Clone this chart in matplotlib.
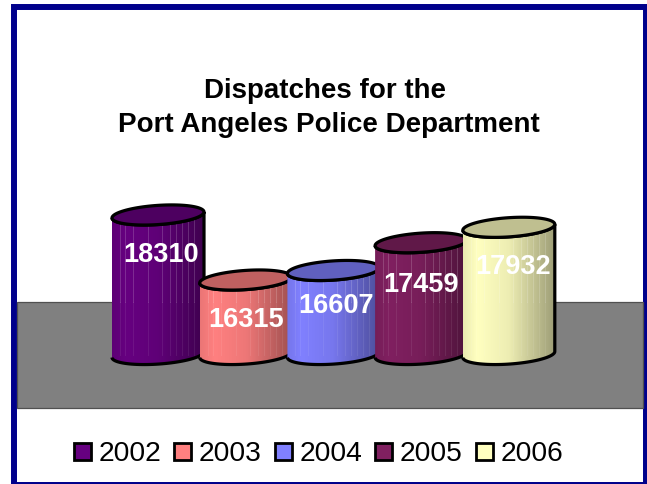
import numpy as np
import matplotlib
matplotlib.use("Agg")
import matplotlib.pyplot as plt
from matplotlib.colors import to_rgb
from matplotlib.patches import PathPatch, Rectangle
from matplotlib.path import Path

plt.rcParams["font.family"] = ["Liberation Sans", "DejaVu Sans"]

title = "Dispatches for the\nPort Angeles Police Department"
years = ["2002", "2003", "2004", "2005", "2006"]
dispatches = [18310, 16315, 16607, 17459, 17932]
colors = ["#660080", "#FF8080", "#8080FF", "#802060", "#FFFFC0"]

W, H = 647, 485
BAR_STEP = 87.7     # px between cylinders
PX_PER_UNIT = 0.0326
BASE = 14030        # value where the cylinders stand


def px_x(x):
    return (x - 158) / BAR_STEP


def px_y(y):
    return BASE + (355.5 - y) / PX_PER_UNIT


def shade(color, f):
    return tuple(c * f for c in to_rgb(color))


def ring(cx, cy, t):
    # slightly tilted ellipse, in data units
    x = cx + (46 / BAR_STEP) * np.cos(t)
    y = cy + (9.6 * np.sin(t) + 3.0 * np.cos(t)) / PX_PER_UNIT
    return x, y


def cylinder(ax, i, value, color, z):
    t_low = np.linspace(np.pi, 2 * np.pi, 50)
    x_low, y_low = ring(i, BASE, t_low)
    x_up, y_up = ring(i, value, t_low[::-1])
    body = Path(np.column_stack([np.r_[x_low, x_up], np.r_[y_low, y_up]]), closed=False)

    # left to right shading
    ramp = np.interp(np.linspace(0, 1, 90), [0, 0.15, 0.5, 1], [0.92, 1.0, 0.93, 0.62])
    img = np.array([[shade(color, f) for f in ramp]])
    half = 46 / BAR_STEP
    im = ax.imshow(img, extent=[i - half, i + half, BASE - 15 / PX_PER_UNIT, value + 5 / PX_PER_UNIT],
                   aspect="auto", zorder=z, interpolation="bilinear")
    outline = PathPatch(body, fc="none", ec="none", transform=ax.transData)
    ax.add_patch(outline)
    im.set_clip_path(outline)

    # thin pale streaks of the old gradient fill, fainter below the floor edge
    floor_edge = px_y(302.5)
    for off in [-38, -33, -25, -10, 4, 12, 18, 24, 30, 36]:
        up, = ax.plot([i + off / BAR_STEP] * 2, [floor_edge, value], color="white", lw=0.6,
                      alpha=0.2, zorder=z + 0.1)
        low, = ax.plot([i + off / BAR_STEP] * 2, [BASE, floor_edge], color="white", lw=0.6,
                       alpha=0.09, zorder=z + 0.1)
        up.set_clip_path(outline)
        low.set_clip_path(outline)

    ax.add_patch(PathPatch(body, fc="none", ec="black", lw=2.3, zorder=z + 0.2))
    t = np.linspace(0, 2 * np.pi, 100)
    x_top, y_top = ring(i, value, t)
    ax.fill(x_top, y_top, fc=shade(color, 0.75), ec="black", lw=2.3, zorder=z + 0.3)


fig = plt.figure(figsize=(W / 100, H / 100), dpi=100)
ax = fig.add_axes([0, 0, 1, 1])
ax.set_axis_off()
ax.set_xlim(px_x(0), px_x(W))
ax.set_ylim(px_y(H), px_y(0))

# frame and floor are drawn in figure pixels
pix = matplotlib.transforms.Affine2D().scale(1 / W, -1 / H).translate(0, 1) + fig.transFigure
ax.add_patch(Rectangle((14, 8), 632, 478.3, fc="white", ec="#00008B", lw=4.3, transform=pix, zorder=1))
ax.add_patch(Rectangle((17, 302.5), 626, 106.5, fc="#808080", ec="#505050", lw=0.9, transform=pix, zorder=2))

for i, (value, color) in enumerate(zip(dispatches, colors)):
    cylinder(ax, i, value, color, 3 + i)

label_px = [(161, 255), (246, 320), (336, 306), (421, 285), (513, 267)]
for value, (x, y) in zip(dispatches, label_px):
    ax.text(x, y, str(value), color="white", fontsize=19.5, fontweight="bold", ha="center",
            va="center", transform=pix, zorder=10)

line1, line2 = title.split("\n")
ax.text(325, 90.5, line1, fontsize=20, fontweight="bold", ha="center", va="center", transform=pix, zorder=10)
ax.text(329, 125, line2, fontsize=20, fontweight="bold", ha="center", va="center", transform=pix, zorder=10)

# legend
square_x = [74, 174, 275, 375, 476]
for x, year, color in zip(square_x, years, colors):
    ax.add_patch(Rectangle((x, 444), 17, 17, fc=color, ec="black", lw=2.0, transform=pix, zorder=10))
    ax.text(x + 25, 454.5, year, fontsize=20.3, ha="left", va="center", transform=pix, zorder=10)

fig.savefig("out.png", dpi=100)
